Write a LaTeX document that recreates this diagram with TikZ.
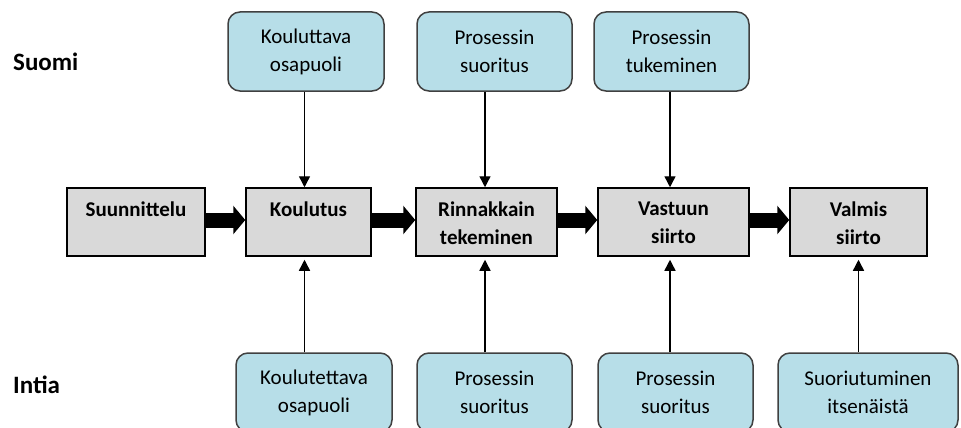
\documentclass[tikz,border=0pt]{standalone}
\usepackage{fontspec}
\setmainfont{Carlito}
\usetikzlibrary{arrows.meta}
\definecolor{boxblue}{HTML}{B7DEE8}
\definecolor{boxgray}{HTML}{D9D9D9}
\definecolor{edgegray}{HTML}{404040}
\begin{document}
\begin{tikzpicture}[x=1pt,y=-1pt,
  role/.style={draw=edgegray, line width=1.5pt, fill=boxblue, rounded corners=12pt,
    minimum height=79pt, inner sep=0pt, align=center,
    font=\fontsize{21}{28}\selectfont},
  phase/.style={draw=black, line width=1.5pt, fill=boxgray, minimum height=68pt, inner sep=0pt},
  phasetext/.style={anchor=north, align=center, inner sep=0pt,
    font=\fontsize{21}{28}\selectfont\bfseries},
  feed/.style={line width=1.4pt, -{Triangle[length=11pt,width=11pt]}},
  flow/.style={line width=15pt, -{Triangle[length=12pt,width=28pt]}},
  country/.style={anchor=west, inner sep=0pt, font=\fontsize{25}{30}\selectfont\bfseries}]
\useasboundingbox (0,0) rectangle (961,428);
\clip (0,0) rectangle (961,428);

% country labels
\node[country] (suomi) at (13,62) {Suomi};
\node[country] (intia) at (13,385) {Intia};

% Finnish side roles
\node[role, minimum width=156pt] (t1) at (306,51.5) {Kouluttava\\osapuoli};
\node[role, minimum width=155pt] (t2) at (494.5,51.5) {Prosessin\\suoritus};
\node[role, minimum width=155pt] (t3) at (671.5,51.5) {Prosessin\\tukeminen};

% phases
\node[phase, minimum width=138pt] (g1) at (136,222) {};
\node[phase, minimum width=125pt] (g2) at (308.5,222) {};
\node[phase, minimum width=141pt] (g3) at (486.5,222) {};
\node[phase, minimum width=151pt] (g4) at (673.5,222) {};
\node[phase, minimum width=137pt] (g5) at (858.5,222) {};
\node[phasetext] (g1t) at ([yshift=-14pt]g1.north) {Suunnittelu};
\node[phasetext] (g2t) at ([yshift=-14pt]g2.north) {Koulutus};
\node[phasetext] (g3t) at ([yshift=-14pt]g3.north) {Rinnakkain\\tekeminen};
\node[phasetext] (g4t) at ([yshift=-14pt]g4.north) {Vastuun\\siirto};
\node[phasetext] (g5t) at ([yshift=-14pt]g5.north) {Valmis\\siirto};

% Indian side roles
\node[role, minimum width=156pt] (b1) at (314,392.5) {Koulutettava\\osapuoli};
\node[role, minimum width=155pt] (b2) at (494.5,392.5) {Prosessin\\suoritus};
\node[role, minimum width=155pt] (b3) at (675.5,392.5) {Prosessin\\suoritus};
\node[role, minimum width=180pt] (b4) at (868,392.5) {Suoriutuminen\\itsenäistä};

% phase flow
\draw[flow, transform canvas={yshift=2pt}] (g1.east) -- (g2.west);
\draw[flow, transform canvas={yshift=2pt}] (g2.east) -- (g3.west);
\draw[flow, transform canvas={yshift=2pt}] (g3.east) -- (g4.west);
\draw[flow, transform canvas={yshift=2pt}] (g4.east) -- (g5.west);

% inputs from above
\draw[feed, transform canvas={xshift=-4pt}] (t1.south -| g2.north) -- (g2.north);
\draw[feed, transform canvas={xshift=-1.5pt}] (t2.south -| g3.north) -- (g3.north);
\draw[feed, transform canvas={xshift=-3.5pt}] (t3.south -| g4.north) -- (g4.north);

% inputs from below
\draw[feed, shorten >=3pt, transform canvas={xshift=-4pt}] (b1.north -| g2.south) -- (g2.south);
\draw[feed, shorten >=3pt, transform canvas={xshift=-1.5pt}] (b2.north -| g3.south) -- (g3.south);
\draw[feed, shorten >=3pt, transform canvas={xshift=-3.5pt}] (b3.north -| g4.south) -- (g4.south);
\draw[feed, shorten >=3pt] (b4.north -| g5.south) -- (g5.south);
\end{tikzpicture}
\end{document}
